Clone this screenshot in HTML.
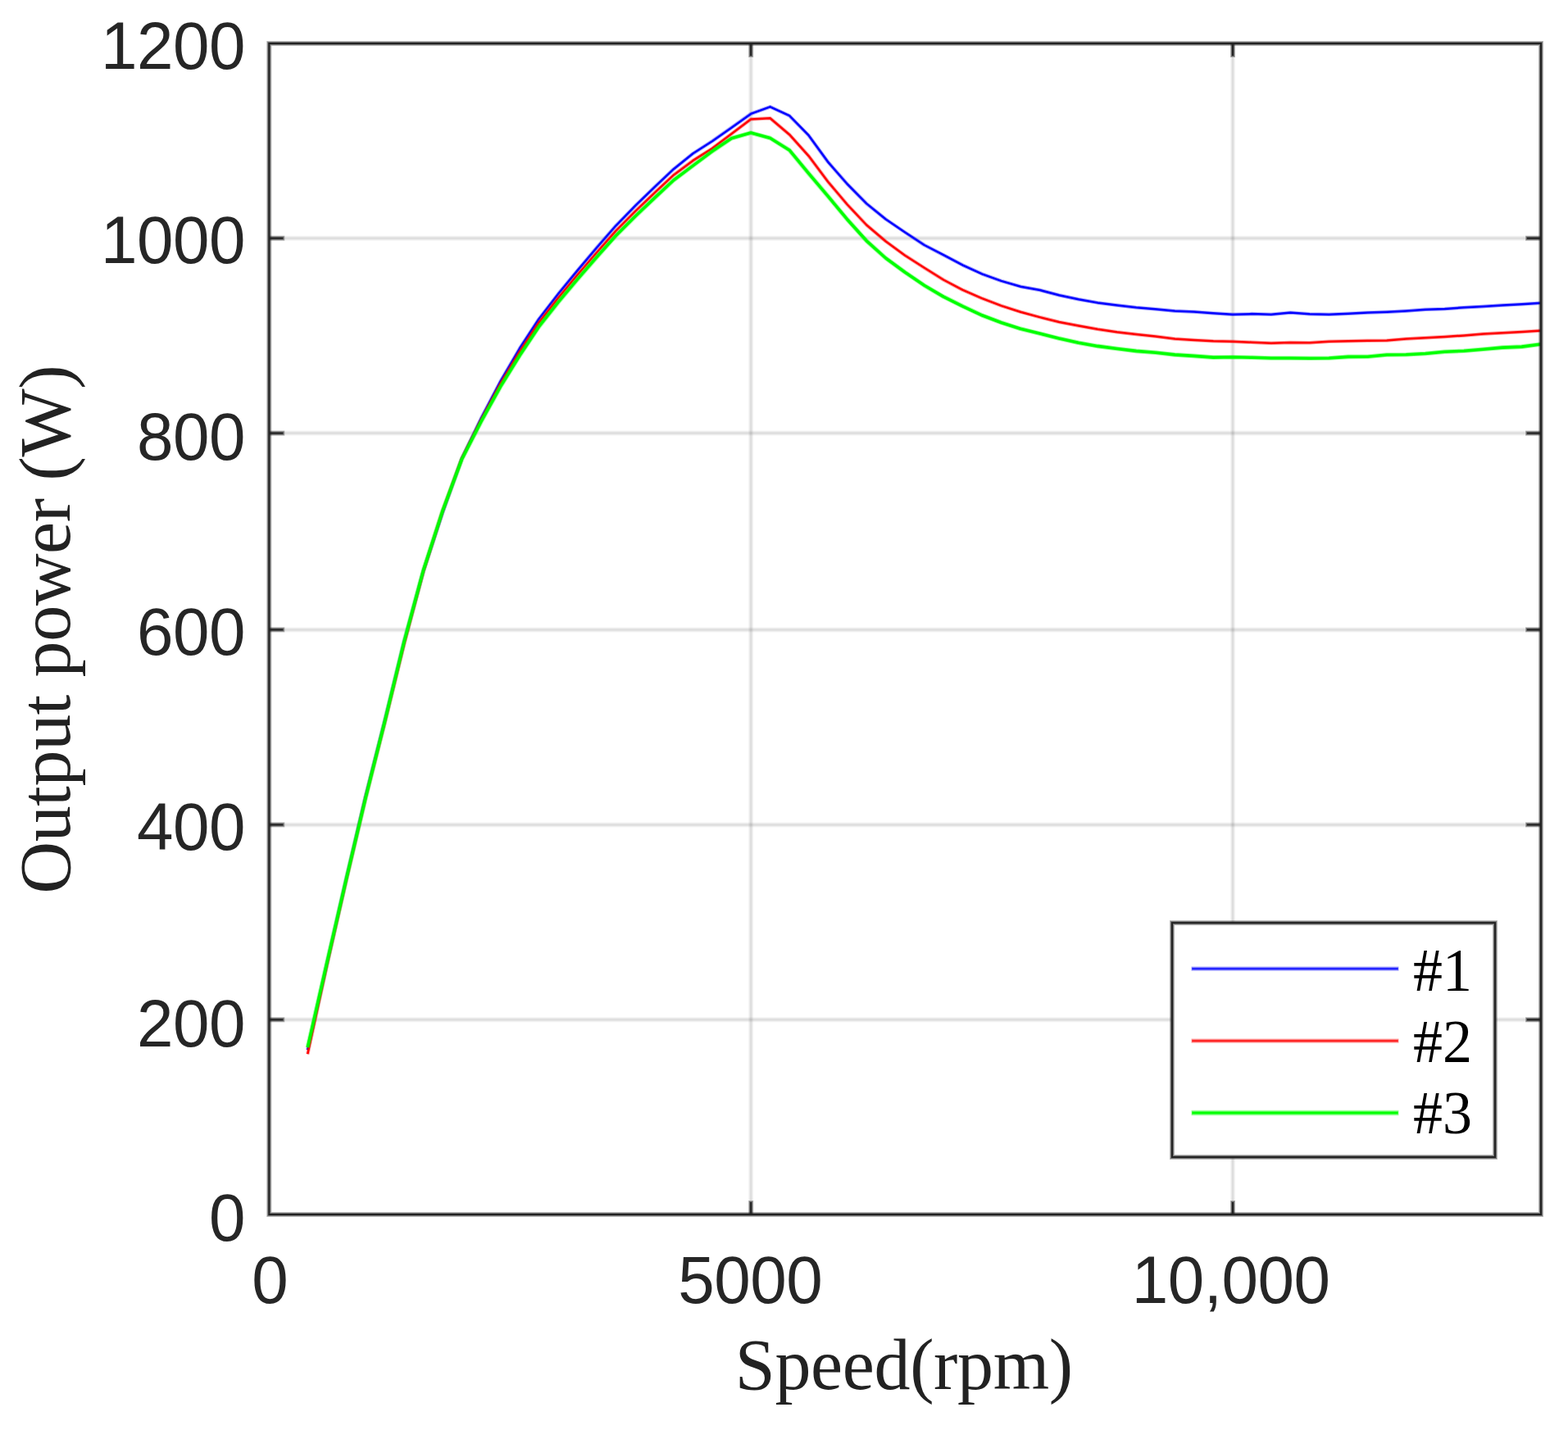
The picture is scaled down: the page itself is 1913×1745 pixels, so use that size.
<!DOCTYPE html>
<html lang="en">
<head>
<meta charset="utf-8">
<title>Output power versus speed</title>
<style>
html,body{margin:0;padding:0;background:#ffffff;}
body{width:1913px;height:1745px;overflow:hidden;}
svg{display:block;}
text{white-space:pre;}
</style>
</head>
<body>
<svg xmlns="http://www.w3.org/2000/svg" width="1913" height="1745" viewBox="0 0 1913 1745">
<rect width="1913" height="1745" fill="#ffffff"/>
<g id="grid" fill="none">
<g stroke="#222222" stroke-width="6" stroke-opacity="0.0495">
<line x1="916.15" y1="53" x2="916.15" y2="1482"/>
<line x1="1504" y1="53" x2="1504" y2="1482"/>
<line x1="328.3" y1="1244.3" x2="1880" y2="1244.3"/>
<line x1="328.3" y1="1006.4" x2="1880" y2="1006.4"/>
<line x1="328.3" y1="768.4" x2="1880" y2="768.4"/>
<line x1="328.3" y1="528.6" x2="1880" y2="528.6"/>
<line x1="328.3" y1="290.7" x2="1880" y2="290.7"/>
</g>
<g stroke="#222222" stroke-width="4" stroke-opacity="0.0458">
<line x1="916.15" y1="53" x2="916.15" y2="1482"/>
<line x1="1504" y1="53" x2="1504" y2="1482"/>
<line x1="328.3" y1="1244.3" x2="1880" y2="1244.3"/>
<line x1="328.3" y1="1006.4" x2="1880" y2="1006.4"/>
<line x1="328.3" y1="768.4" x2="1880" y2="768.4"/>
<line x1="328.3" y1="528.6" x2="1880" y2="528.6"/>
<line x1="328.3" y1="290.7" x2="1880" y2="290.7"/>
</g>
<g stroke="#222222" stroke-width="2" stroke-opacity="0.0628">
<line x1="916.15" y1="53" x2="916.15" y2="1482"/>
<line x1="1504" y1="53" x2="1504" y2="1482"/>
<line x1="328.3" y1="1244.3" x2="1880" y2="1244.3"/>
<line x1="328.3" y1="1006.4" x2="1880" y2="1006.4"/>
<line x1="328.3" y1="768.4" x2="1880" y2="768.4"/>
<line x1="328.3" y1="528.6" x2="1880" y2="528.6"/>
<line x1="328.3" y1="290.7" x2="1880" y2="290.7"/>
</g>
</g>
<g id="curves" fill="none" stroke-linejoin="round" stroke-linecap="butt">
<polyline points="375.32,1281.2 398.83,1175.9 422.34,1072.7 445.85,972.3 469.36,879.6 492.87,783.6 516.38,697.4 539.9,625.7 563.41,559.5 586.92,510.6 610.43,465.7 633.94,425.3 657.45,389.3 680.96,358.8 704.47,330.1 727.98,302.3 751.49,275.3 775,251.2 798.51,228.4 822.02,206.2 845.53,187.3 869.04,172.2 892.55,155.7 916.07,138.9 939.58,130.3 963.09,141.2 986.6,165.2 1010.11,197.6 1033.62,224.5 1057.13,248.4 1080.64,267.5 1104.15,283.5 1127.66,299 1151.17,311.2 1174.68,323.6 1198.19,334.3 1221.7,342.9 1245.21,349.7 1268.72,354 1292.23,360.2 1315.75,365.3 1339.26,369.4 1362.77,372.5 1386.28,375.3 1409.79,377.2 1433.3,379.5 1456.81,380.4 1480.32,382.2 1503.83,383.7 1527.34,383.1 1550.85,383.7 1574.36,381.4 1597.87,383.3 1621.38,383.7 1644.89,382.8 1668.4,381.6 1691.92,380.7 1715.43,379.5 1738.94,377.8 1762.45,376.9 1785.96,375.3 1809.47,373.9 1832.98,372.5 1856.49,371.2 1880,369.8" stroke="#0000ff" stroke-width="4.5" stroke-opacity="0.350"/>
<polyline points="375.32,1281.2 398.83,1175.9 422.34,1072.7 445.85,972.3 469.36,879.6 492.87,783.6 516.38,697.4 539.9,625.7 563.41,559.5 586.92,510.6 610.43,465.7 633.94,425.3 657.45,389.3 680.96,358.8 704.47,330.1 727.98,302.3 751.49,275.3 775,251.2 798.51,228.4 822.02,206.2 845.53,187.3 869.04,172.2 892.55,155.7 916.07,138.9 939.58,130.3 963.09,141.2 986.6,165.2 1010.11,197.6 1033.62,224.5 1057.13,248.4 1080.64,267.5 1104.15,283.5 1127.66,299 1151.17,311.2 1174.68,323.6 1198.19,334.3 1221.7,342.9 1245.21,349.7 1268.72,354 1292.23,360.2 1315.75,365.3 1339.26,369.4 1362.77,372.5 1386.28,375.3 1409.79,377.2 1433.3,379.5 1456.81,380.4 1480.32,382.2 1503.83,383.7 1527.34,383.1 1550.85,383.7 1574.36,381.4 1597.87,383.3 1621.38,383.7 1644.89,382.8 1668.4,381.6 1691.92,380.7 1715.43,379.5 1738.94,377.8 1762.45,376.9 1785.96,375.3 1809.47,373.9 1832.98,372.5 1856.49,371.2 1880,369.8" stroke="#0000ff" stroke-width="2.5"/>
<polyline points="375.32,1286.2 398.83,1177.9 422.34,1074.7 445.85,974.3 469.36,882.1 492.87,786.6 516.38,697.9 539.9,623.7 563.41,559.5 586.92,512.6 610.43,468.7 633.94,429.4 657.45,393.8 680.96,363.7 704.47,335.5 727.98,308.2 751.49,281.6 775,257.9 798.51,235.4 822.02,213.4 845.53,195.9 869.04,181.1 892.55,163.2 916.07,145.4 939.58,144.3 963.09,164.2 986.6,190.3 1010.11,221.7 1033.62,249.5 1057.13,274.5 1080.64,294.5 1104.15,311.7 1127.66,326.8 1151.17,341.5 1174.68,353.9 1198.19,364.2 1221.7,373.1 1245.21,380.7 1268.72,387.1 1292.23,393 1315.75,397.5 1339.26,401.8 1362.77,405.3 1386.28,408.1 1409.79,410.6 1433.3,413.4 1456.81,415 1480.32,416.2 1503.83,416.8 1527.34,417.7 1550.85,418.7 1574.36,418.1 1597.87,418.3 1621.38,416.8 1644.89,416.2 1668.4,415.8 1691.92,415.4 1715.43,413.5 1738.94,412.2 1762.45,411 1785.96,409.4 1809.47,407.6 1832.98,406.2 1856.49,404.9 1880,403.5" stroke="#ff0000" stroke-width="4.5" stroke-opacity="0.350"/>
<polyline points="375.32,1286.2 398.83,1177.9 422.34,1074.7 445.85,974.3 469.36,882.1 492.87,786.6 516.38,697.9 539.9,623.7 563.41,559.5 586.92,512.6 610.43,468.7 633.94,429.4 657.45,393.8 680.96,363.7 704.47,335.5 727.98,308.2 751.49,281.6 775,257.9 798.51,235.4 822.02,213.4 845.53,195.9 869.04,181.1 892.55,163.2 916.07,145.4 939.58,144.3 963.09,164.2 986.6,190.3 1010.11,221.7 1033.62,249.5 1057.13,274.5 1080.64,294.5 1104.15,311.7 1127.66,326.8 1151.17,341.5 1174.68,353.9 1198.19,364.2 1221.7,373.1 1245.21,380.7 1268.72,387.1 1292.23,393 1315.75,397.5 1339.26,401.8 1362.77,405.3 1386.28,408.1 1409.79,410.6 1433.3,413.4 1456.81,415 1480.32,416.2 1503.83,416.8 1527.34,417.7 1550.85,418.7 1574.36,418.1 1597.87,418.3 1621.38,416.8 1644.89,416.2 1668.4,415.8 1691.92,415.4 1715.43,413.5 1738.94,412.2 1762.45,411 1785.96,409.4 1809.47,407.6 1832.98,406.2 1856.49,404.9 1880,403.5" stroke="#ff0000" stroke-width="2.5"/>
<polyline points="375.32,1278.2 398.83,1174.9 422.34,1073.2 445.85,974.3 469.36,880.6 492.87,783.6 516.38,696.4 539.9,623.7 563.41,560.5 586.92,514.6 610.43,472.1 633.94,434 657.45,398.7 680.96,368.9 704.47,340.9 727.98,313.8 751.49,287.5 775,264 798.51,241.6 822.02,219.8 845.53,202.1 869.04,184.6 892.55,168.7 916.07,162.1 939.58,168.5 963.09,183.2 986.6,211.6 1010.11,239.4 1033.62,267.7 1057.13,293.8 1080.64,315 1104.15,332.3 1127.66,348.3 1151.17,362.1 1174.68,373.8 1198.19,384.8 1221.7,393.7 1245.21,401.3 1268.72,407.1 1292.23,413.1 1315.75,418.3 1339.26,422.4 1362.77,425.5 1386.28,428.4 1409.79,430.3 1433.3,432.9 1456.81,434.4 1480.32,436.1 1503.83,435.7 1527.34,436.3 1550.85,437 1574.36,437 1597.87,437.2 1621.38,437 1644.89,435.4 1668.4,435.2 1691.92,433 1715.43,432.8 1738.94,431.5 1762.45,429.2 1785.96,428.2 1809.47,426.2 1832.98,424.1 1856.49,423.1 1880,420" stroke="#00ff00" stroke-width="5.6" stroke-opacity="0.350"/>
<polyline points="375.32,1278.2 398.83,1174.9 422.34,1073.2 445.85,974.3 469.36,880.6 492.87,783.6 516.38,696.4 539.9,623.7 563.41,560.5 586.92,514.6 610.43,472.1 633.94,434 657.45,398.7 680.96,368.9 704.47,340.9 727.98,313.8 751.49,287.5 775,264 798.51,241.6 822.02,219.8 845.53,202.1 869.04,184.6 892.55,168.7 916.07,162.1 939.58,168.5 963.09,183.2 986.6,211.6 1010.11,239.4 1033.62,267.7 1057.13,293.8 1080.64,315 1104.15,332.3 1127.66,348.3 1151.17,362.1 1174.68,373.8 1198.19,384.8 1221.7,393.7 1245.21,401.3 1268.72,407.1 1292.23,413.1 1315.75,418.3 1339.26,422.4 1362.77,425.5 1386.28,428.4 1409.79,430.3 1433.3,432.9 1456.81,434.4 1480.32,436.1 1503.83,435.7 1527.34,436.3 1550.85,437 1574.36,437 1597.87,437.2 1621.38,437 1644.89,435.4 1668.4,435.2 1691.92,433 1715.43,432.8 1738.94,431.5 1762.45,429.2 1785.96,428.2 1809.47,426.2 1832.98,424.1 1856.49,423.1 1880,420" stroke="#00ff00" stroke-width="3.6"/>
</g>
<g id="axes" fill="none">
<g stroke="#222222" stroke-width="6" stroke-opacity="0.330">
<line x1="916.15" y1="1482" x2="916.15" y2="1465"/>
<line x1="916.15" y1="53" x2="916.15" y2="70"/>
<line x1="1504" y1="1482" x2="1504" y2="1465"/>
<line x1="1504" y1="53" x2="1504" y2="70"/>
<line x1="328.3" y1="1244.3" x2="347.3" y2="1244.3"/>
<line x1="1880" y1="1244.3" x2="1861" y2="1244.3"/>
<line x1="328.3" y1="1006.4" x2="347.3" y2="1006.4"/>
<line x1="1880" y1="1006.4" x2="1861" y2="1006.4"/>
<line x1="328.3" y1="768.4" x2="347.3" y2="768.4"/>
<line x1="1880" y1="768.4" x2="1861" y2="768.4"/>
<line x1="328.3" y1="528.6" x2="347.3" y2="528.6"/>
<line x1="1880" y1="528.6" x2="1861" y2="528.6"/>
<line x1="328.3" y1="290.7" x2="347.3" y2="290.7"/>
<line x1="1880" y1="290.7" x2="1861" y2="290.7"/>
<rect x="328.3" y="53" width="1551.7" height="1429"/>
</g>
<g stroke="#222222" stroke-width="4" stroke-opacity="0.433">
<line x1="916.15" y1="1482" x2="916.15" y2="1466"/>
<line x1="916.15" y1="53" x2="916.15" y2="69"/>
<line x1="1504" y1="1482" x2="1504" y2="1466"/>
<line x1="1504" y1="53" x2="1504" y2="69"/>
<line x1="328.3" y1="1244.3" x2="346.3" y2="1244.3"/>
<line x1="1880" y1="1244.3" x2="1862" y2="1244.3"/>
<line x1="328.3" y1="1006.4" x2="346.3" y2="1006.4"/>
<line x1="1880" y1="1006.4" x2="1862" y2="1006.4"/>
<line x1="328.3" y1="768.4" x2="346.3" y2="768.4"/>
<line x1="1880" y1="768.4" x2="1862" y2="768.4"/>
<line x1="328.3" y1="528.6" x2="346.3" y2="528.6"/>
<line x1="1880" y1="528.6" x2="1862" y2="528.6"/>
<line x1="328.3" y1="290.7" x2="346.3" y2="290.7"/>
<line x1="1880" y1="290.7" x2="1862" y2="290.7"/>
<rect x="328.3" y="53" width="1551.7" height="1429"/>
</g>
<g stroke="#222222" stroke-width="2">
<line x1="916.15" y1="1482" x2="916.15" y2="1467"/>
<line x1="916.15" y1="53" x2="916.15" y2="68"/>
<line x1="1504" y1="1482" x2="1504" y2="1467"/>
<line x1="1504" y1="53" x2="1504" y2="68"/>
<line x1="328.3" y1="1244.3" x2="345.3" y2="1244.3"/>
<line x1="1880" y1="1244.3" x2="1863" y2="1244.3"/>
<line x1="328.3" y1="1006.4" x2="345.3" y2="1006.4"/>
<line x1="1880" y1="1006.4" x2="1863" y2="1006.4"/>
<line x1="328.3" y1="768.4" x2="345.3" y2="768.4"/>
<line x1="1880" y1="768.4" x2="1863" y2="768.4"/>
<line x1="328.3" y1="528.6" x2="345.3" y2="528.6"/>
<line x1="1880" y1="528.6" x2="1863" y2="528.6"/>
<line x1="328.3" y1="290.7" x2="345.3" y2="290.7"/>
<line x1="1880" y1="290.7" x2="1863" y2="290.7"/>
<rect x="328.3" y="53" width="1551.7" height="1429"/>
</g>
</g>
<g id="ticklabels" font-family="'Liberation Sans', Arial, Helvetica, sans-serif" font-size="80" fill="#262626" letter-spacing="-0.49">
<text transform="translate(254.9,1514.3) scale(1,1.027)">0</text>
<text transform="translate(166.9,1276.7) scale(1,1.027)">200</text>
<text transform="translate(166.9,1037.3) scale(1,1.027)">400</text>
<text transform="translate(166.9,799) scale(1,1.027)">600</text>
<text transform="translate(166.9,561) scale(1,1.027)">800</text>
<text transform="translate(122.9,321.4) scale(1,1.027)">1000</text>
<text transform="translate(122.9,83.6) scale(1,1.027)">1200</text>
<text transform="translate(307.2,1590) scale(1,1.027)">0</text>
<text transform="translate(827.2,1590) scale(1,1.027)">5000</text>
<text transform="translate(1380.8,1590) scale(1,1.027)">10,000</text>
</g>
<g id="axislabels" font-family="'Liberation Serif', 'Times New Roman', Times, serif" font-size="88" fill="#222222" letter-spacing="-0.33">
<text transform="translate(1102.8,1694.8) scale(1,1.012)" text-anchor="middle">Speed(rpm)</text>
<text transform="translate(85.3,768.2) rotate(-90) scale(1,1.012)" text-anchor="middle">Output power (W)</text>
</g>
<g id="legend">
<rect x="1430" y="1126.1" width="394" height="285.9" fill="#ffffff" stroke="#222222" stroke-width="6" stroke-opacity="0.330"/>
<rect x="1430" y="1126.1" width="394" height="285.9" fill="none" stroke="#222222" stroke-width="4" stroke-opacity="0.433"/>
<rect x="1430" y="1126.1" width="394" height="285.9" fill="none" stroke="#222222" stroke-width="2"/>
<line x1="1453.5" y1="1182.2" x2="1706.5" y2="1182.2" stroke="#0000ff" stroke-width="5.3" stroke-opacity="0.330"/>
<line x1="1454" y1="1182.2" x2="1706" y2="1182.2" stroke="#0000ff" stroke-width="3.3" stroke-opacity="0.433"/>
<line x1="1454.5" y1="1182.2" x2="1705.5" y2="1182.2" stroke="#0000ff" stroke-width="1.3"/>
<line x1="1453.5" y1="1270.2" x2="1706.5" y2="1270.2" stroke="#ff0000" stroke-width="5.3" stroke-opacity="0.330"/>
<line x1="1454" y1="1270.2" x2="1706" y2="1270.2" stroke="#ff0000" stroke-width="3.3" stroke-opacity="0.433"/>
<line x1="1454.5" y1="1270.2" x2="1705.5" y2="1270.2" stroke="#ff0000" stroke-width="1.3"/>
<line x1="1453.5" y1="1358" x2="1706.5" y2="1358" stroke="#00ff00" stroke-width="6.4" stroke-opacity="0.330"/>
<line x1="1454" y1="1358" x2="1706" y2="1358" stroke="#00ff00" stroke-width="4.4" stroke-opacity="0.433"/>
<line x1="1454.5" y1="1358" x2="1705.5" y2="1358" stroke="#00ff00" stroke-width="2.4"/>
<g font-family="'Liberation Serif', 'Times New Roman', Times, serif" font-size="72" fill="#000000">
<text transform="translate(1723.9,1209.3) scale(1,1.024)">#1</text>
<text transform="translate(1723.9,1296.3) scale(1,1.024)">#2</text>
<text transform="translate(1723.9,1383.3) scale(1,1.024)">#3</text>
</g>
</g>
</svg>
</body>
</html>
